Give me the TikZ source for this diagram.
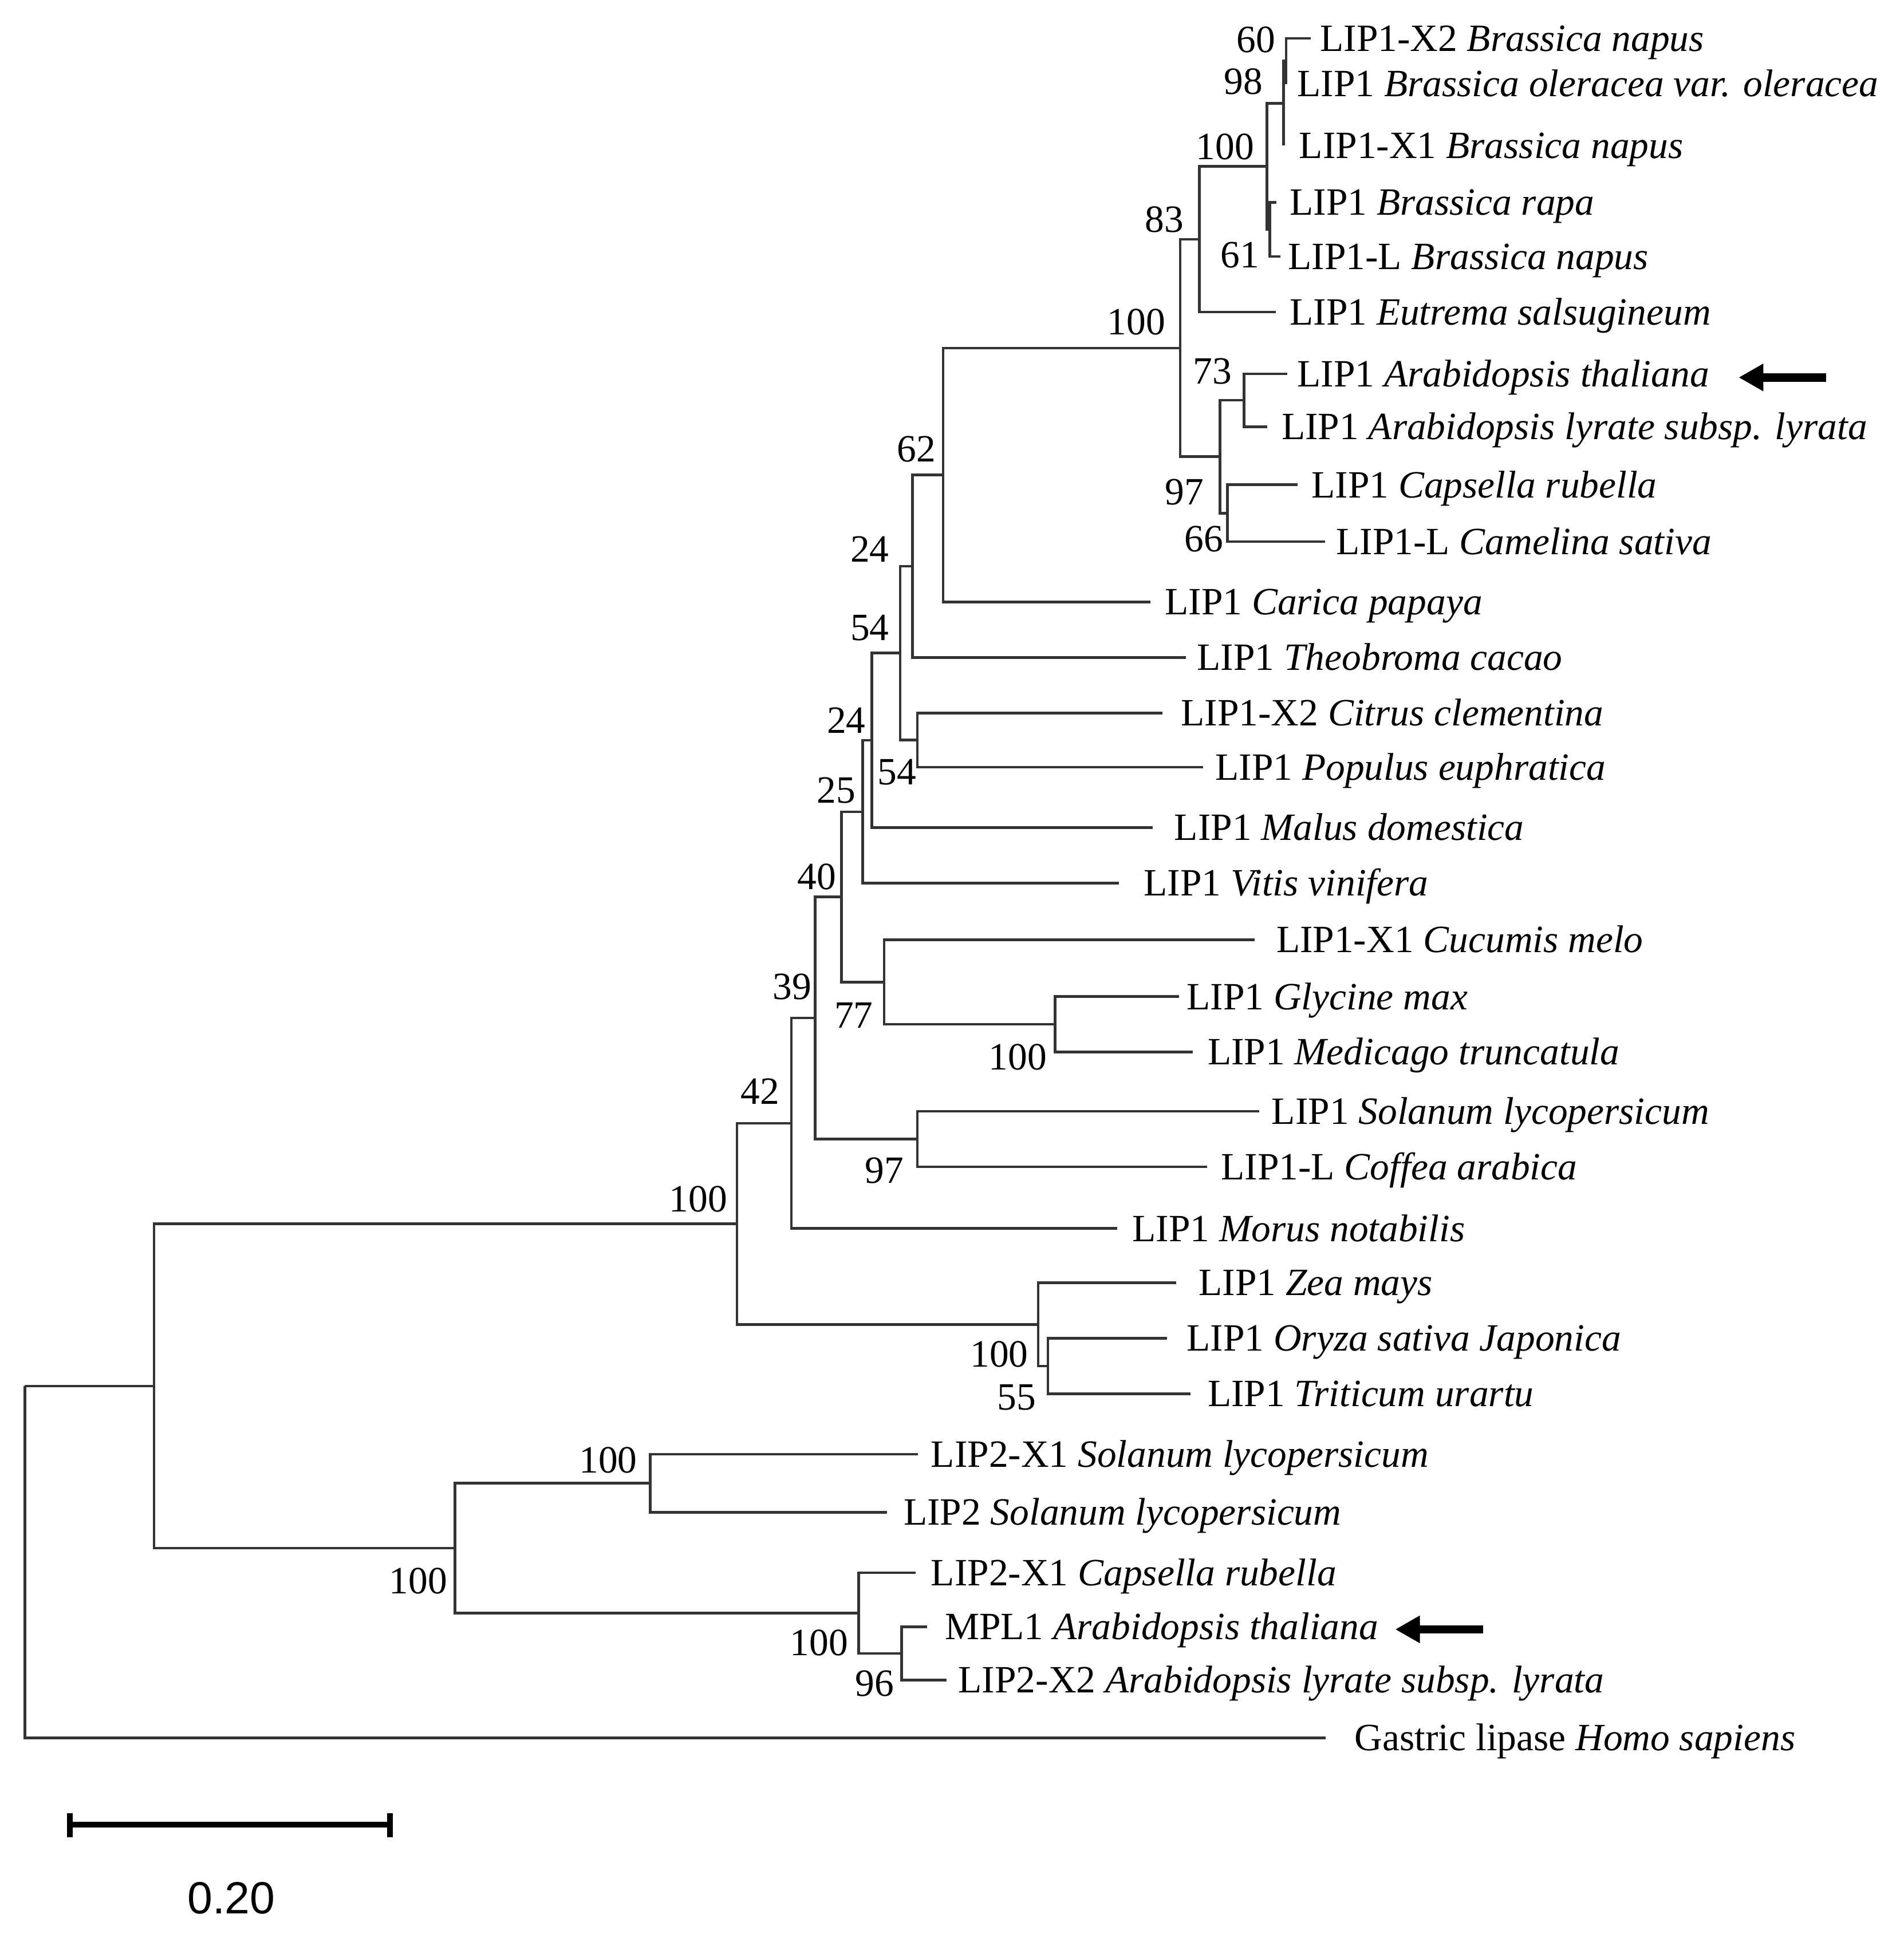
\documentclass[tikz,border=0pt]{standalone}
\usepackage{fontspec}
\setmainfont{Liberation Serif}
\newfontfamily\barfont{Liberation Sans}
\usetikzlibrary{arrows.meta}
\begin{document}
\begin{tikzpicture}[x=0.01cm,y=-0.01cm,
  branch/.style={draw=black!80, line width=0.021cm, line join=miter},
  leaf/.style={anchor=base west, inner sep=0pt, yshift=-0.1035cm, font=\fontsize{8.9}{10}\selectfont},
  boot/.style={anchor=center, inner sep=0pt, font=\fontsize{8.9}{10}\selectfont},
  pointer/.style={line width=0.068cm, -{Triangle[length=0.2cm,width=0.21cm]}},
  scalebar/.style={line width=0.046cm}]
\useasboundingbox (0,0) rectangle (1543.4,1568);
% ---------- internal nodes ----------
\coordinate (root) at (20.1,1123.7);
\coordinate (nA)   at (124.8,1123.7);
\coordinate (nL100) at (597.5,992.2);
\coordinate (n42)  at (641.6,910.7);
\coordinate (n39)  at (660.8,825.3);
\coordinate (n40)  at (682.2,727.2);
\coordinate (n25)  at (699.2,658.1);
\coordinate (n24l) at (706.8,600.25);
\coordinate (n54u) at (729.6,529.5);
\coordinate (n24u) at (739.6,459);
\coordinate (n62)  at (764.4,385);
\coordinate (n54l) at (743.7,600);
\coordinate (n77)  at (716.8,796.25);
\coordinate (nGM)  at (855.2,830.5);
\coordinate (n97c) at (743.7,923.5);
\coordinate (nMono) at (841.5,1073.75);
\coordinate (n55)  at (849.4,1107.5);
\coordinate (nBc)  at (956.7,282.1);
\coordinate (n83)  at (972.2,193.9);
\coordinate (nBr)  at (1027.1,134.9);
\coordinate (n98)  at (1040.5,83.75);
\coordinate (n60)  at (1042.5,49.5);
\coordinate (n61)  at (1029.4,186);
\coordinate (n97)  at (988.9,370.25);
\coordinate (n73)  at (1008.5,324.5);
\coordinate (n66)  at (994.9,416);
\coordinate (nL2)  at (368.9,1255.1);
\coordinate (nS100) at (527,1202.5);
\coordinate (nAr)  at (696.1,1307.75);
\coordinate (n96)  at (730.8,1340.5);
% ---------- tips ----------
\coordinate (t1) at (1062.6,31);
\coordinate (t2) at (1042.5,68);
\coordinate (t3) at (1040.5,118);
\coordinate (t4) at (1034.7,164);
\coordinate (t5) at (1037.8,208);
\coordinate (t6) at (1034,253);
\coordinate (t7) at (1043.3,303);
\coordinate (t8) at (1027.1,346);
\coordinate (t9) at (1051.8,393);
\coordinate (t10) at (1074.2,439);
\coordinate (t11) at (932.7,488);
\coordinate (t12) at (961.3,533);
\coordinate (t13) at (942.3,578);
\coordinate (t14) at (975.2,622);
\coordinate (t15) at (934.2,671);
\coordinate (t16) at (907.2,716);
\coordinate (t17) at (1017,762);
\coordinate (t18) at (955.6,808);
\coordinate (t19) at (966.8,853);
\coordinate (t20) at (1020.9,901);
\coordinate (t21) at (978.3,946);
\coordinate (t22) at (905.6,996);
\coordinate (t23) at (953.6,1040);
\coordinate (t24) at (945.9,1085);
\coordinate (t25) at (965.2,1130);
\coordinate (t26) at (744,1179);
\coordinate (t27) at (719,1226);
\coordinate (t28) at (742.3,1275);
\coordinate (t29) at (751.5,1319);
\coordinate (t30) at (767.3,1362);
\coordinate (t31) at (1074.7,1409);
% ---------- branches ----------
\draw[branch] (root) |- (nA);  \draw[branch] (root) |- (t31);
\draw[branch] (nA) |- (nL100); \draw[branch] (nA) |- (nL2);
\draw[branch] (nL100) |- (n42); \draw[branch] (nL100) |- (nMono);
\draw[branch] (n42) |- (n39); \draw[branch] (n42) |- (t22);
\draw[branch] (n39) |- (n40); \draw[branch] (n39) |- (n97c);
\draw[branch] (n40) |- (n25); \draw[branch] (n40) |- (n77);
\draw[branch] (n25) |- (n24l); \draw[branch] (n25) |- (t16);
\draw[branch] (n24l) |- (n54u); \draw[branch] (n24l) |- (t15);
\draw[branch] (n54u) |- (n24u); \draw[branch] (n54u) |- (n54l);
\draw[branch] (n24u) |- (n62); \draw[branch] (n24u) |- (t12);
\draw[branch] (n62) |- (nBc); \draw[branch] (n62) |- (t11);
\draw[branch] (n54l) |- (t13); \draw[branch] (n54l) |- (t14);
\draw[branch] (n77) |- (t17); \draw[branch] (n77) |- (nGM);
\draw[branch] (nGM) |- (t18); \draw[branch] (nGM) |- (t19);
\draw[branch] (n97c) |- (t20); \draw[branch] (n97c) |- (t21);
\draw[branch] (nMono) |- (t23); \draw[branch] (nMono) |- (n55);
\draw[branch] (n55) |- (t24); \draw[branch] (n55) |- (t25);
\draw[branch] (nBc) |- (n83); \draw[branch] (nBc) |- (n97);
\draw[branch] (n83) |- (nBr); \draw[branch] (n83) |- (t6);
\draw[branch] (nBr) |- (n98); \draw[branch] (nBr) |- (n61);
\draw[branch] (n98) |- (n60); \draw[branch] (n98) |- (t3);
\draw[branch] (n60) |- (t1); \draw[branch] (n60) |- (t2);
\draw[branch] (n61) |- (t4); \draw[branch] (n61) |- (t5);
\draw[branch] (n97) |- (n73); \draw[branch] (n97) |- (n66);
\draw[branch] (n73) |- (t7); \draw[branch] (n73) |- (t8);
\draw[branch] (n66) |- (t9); \draw[branch] (n66) |- (t10);
\draw[branch] (nL2) |- (nS100); \draw[branch] (nL2) |- (nAr);
\draw[branch] (nS100) |- (t26); \draw[branch] (nS100) |- (t27);
\draw[branch] (nAr) |- (t28); \draw[branch] (nAr) |- (n96);
\draw[branch] (n96) |- (t29); \draw[branch] (n96) |- (t30);
% ---------- leaf labels ----------
\node[leaf] (l1) at (1069.4,31) {LIP1-X2 \textit{Brassica napus}};
\node[leaf] (l2) at (1050.9,68) {LIP1 \textit{Brassica oleracea var. oleracea}};
\node[leaf] (l3) at (1052.5,118) {LIP1-X1 \textit{Brassica napus}};
\node[leaf] (l4) at (1044.8,164) {LIP1 \textit{Brassica rapa}};
\node[leaf] (l5) at (1043.5,208) {LIP1-L \textit{Brassica napus}};
\node[leaf] (l6) at (1044.8,253) {LIP1 \textit{Eutrema salsugineum}};
\node[leaf] (l7) at (1050.9,303) {LIP1 \textit{Arabidopsis thaliana}};
\node[leaf] (l8) at (1038.2,346) {LIP1 \textit{Arabidopsis lyrate subsp. lyrata}};
\node[leaf] (l9) at (1062.5,393) {LIP1 \textit{Capsella rubella}};
\node[leaf] (l10) at (1082.4,439) {LIP1-L \textit{Camelina sativa}};
\node[leaf] (l11) at (943.6,488) {LIP1 \textit{Carica papaya}};
\node[leaf] (l12) at (969.8,533) {LIP1 \textit{Theobroma cacao}};
\node[leaf] (l13) at (956.7,578) {LIP1-X2 \textit{Citrus clementina}};
\node[leaf] (l14) at (984.5,622) {LIP1 \textit{Populus euphratica}};
\node[leaf] (l15) at (951.3,671) {LIP1 \textit{Malus domestica}};
\node[leaf] (l16) at (926.5,716) {LIP1 \textit{Vitis vinifera}};
\node[leaf] (l17) at (1034,762) {LIP1-X1 \textit{Cucumis melo}};
\node[leaf] (l18) at (961.3,808) {LIP1 \textit{Glycine max}};
\node[leaf] (l19) at (978.3,853) {LIP1 \textit{Medicago truncatula}};
\node[leaf] (l20) at (1030.2,901) {LIP1 \textit{Solanum lycopersicum}};
\node[leaf] (l21) at (989.2,946) {LIP1-L \textit{Coffea arabica}};
\node[leaf] (l22) at (917.3,996) {LIP1 \textit{Morus notabilis}};
\node[leaf] (l23) at (971,1040) {LIP1 \textit{Zea mays}};
\node[leaf] (l24) at (961.3,1085) {LIP1 \textit{Oryza sativa Japonica}};
\node[leaf] (l25) at (978.3,1130) {LIP1 \textit{Triticum urartu}};
\node[leaf] (l26) at (754,1179) {LIP2-X1 \textit{Solanum lycopersicum}};
\node[leaf] (l27) at (731.9,1226) {LIP2 \textit{Solanum lycopersicum}};
\node[leaf] (l28) at (754,1275) {LIP2-X1 \textit{Capsella rubella}};
\node[leaf] (l29) at (765.3,1319) {MPL1 \textit{Arabidopsis thaliana}};
\node[leaf] (l30) at (776.2,1362) {LIP2-X2 \textit{Arabidopsis lyrate subsp. lyrata}};
\node[leaf] (l31) at (1097.4,1409) {Gastric lipase \textit{Homo sapiens}};
% ---------- bootstrap values ----------
\node[boot] (b60) at (1018,32) {60};
\node[boot] (b98) at (1008,66) {98};
\node[boot] (bBr) at (993,119) {100};
\node[boot] (b83) at (944,178) {83};
\node[boot] (b61) at (1005,207) {61};
\node[boot] (bBc) at (921,261) {100};
\node[boot] (b73) at (983,301) {73};
\node[boot] (b97) at (960,399) {97};
\node[boot] (b66) at (976,437) {66};
\node[boot] (b62) at (743,364) {62};
\node[boot] (b24u) at (705,445) {24};
\node[boot] (b54u) at (705,509) {54};
\node[boot] (b24l) at (686,584) {24};
\node[boot] (b54l) at (727,626) {54};
\node[boot] (b25) at (678,641) {25};
\node[boot] (b40) at (662,711) {40};
\node[boot] (b39) at (642,800) {39};
\node[boot] (b77) at (692,823) {77};
\node[boot] (bGM) at (825,857) {100};
\node[boot] (b42) at (616,885) {42};
\node[boot] (b97c) at (717,949) {97};
\node[boot] (bL100) at (566,972) {100};
\node[boot] (bMono) at (810,1098) {100};
\node[boot] (b55) at (824,1133) {55};
\node[boot] (bS100) at (493,1184) {100};
\node[boot] (bL2) at (339,1282) {100};
\node[boot] (bAr) at (664,1332) {100};
\node[boot] (b96) at (709,1365) {96};
% ---------- arrows ----------
\coordinate (arAs) at (1480.3,306);
\coordinate (arAe) at (1409.4,306);
\draw[pointer] (arAs) -- (arAe);
\coordinate (arBs) at (1202.2,1321);
\coordinate (arBe) at (1131,1321);
\draw[pointer] (arBs) -- (arBe);
% ---------- scale bar ----------
\coordinate (sbL) at (56.8,1479.5);
\coordinate (sbR) at (316,1479.5);
\coordinate (sbLt) at (56.8,1470);
\coordinate (sbLb) at (56.8,1489.6);
\coordinate (sbRt) at (316,1470);
\coordinate (sbRb) at (316,1489.6);
\draw[scalebar] (sbL) -- (sbR);
\draw[scalebar] (sbLt) -- (sbLb);
\draw[scalebar] (sbRt) -- (sbRb);
\node[inner sep=0pt, font=\barfont\fontsize{10.4}{12}\selectfont] (sblab) at (187.5,1539) {0.20};
\end{tikzpicture}
\end{document}
